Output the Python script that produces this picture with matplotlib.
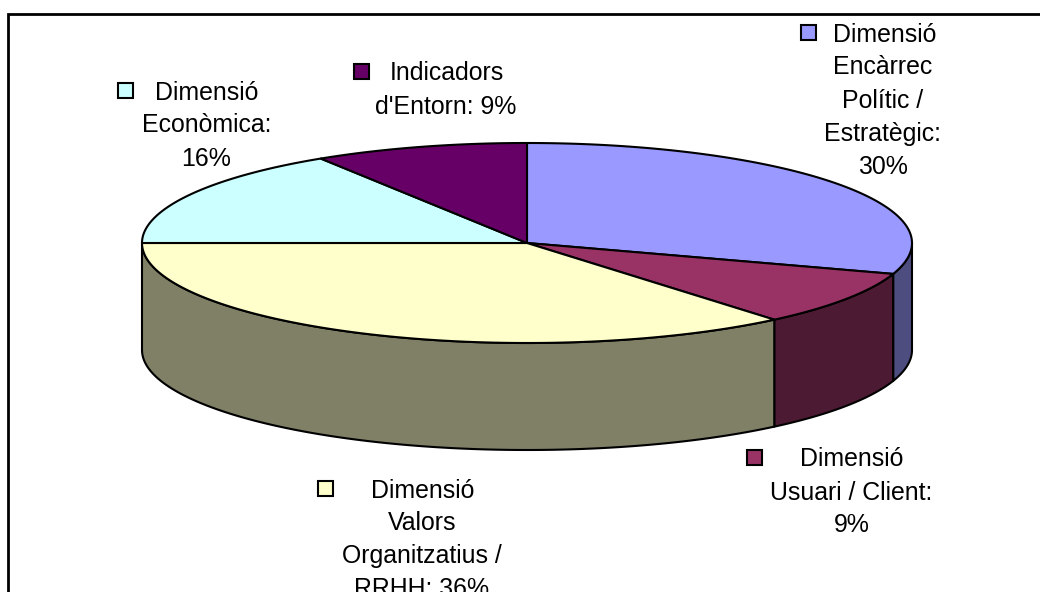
import numpy as np
import matplotlib
matplotlib.use("Agg")
import matplotlib.pyplot as plt
from matplotlib.patches import Polygon, Rectangle

plt.rcParams['font.family'] = ['Liberation Sans', 'DejaVu Sans']

# slices, clockwise from 12 o'clock
names = ["Encarrec", "Usuari", "Valors", "Economica", "Entorn"]
values = [30, 8.9, 36.1, 16, 9]
top_colors = ["#9999FF", "#993366", "#FFFFCC", "#CCFFFF", "#660066"]
side_colors = ["#4D4D80", "#4D1A33", "#808066", "#668080", "#330033"]

labels = [
    ["Dimensió", "Encàrrec", "Polític /", "Estratègic:", "30%"],
    ["Dimensió", "Usuari / Client:", "9%"],
    ["Dimensió", "Valors", "Organitzatius /", "RRHH: 36%"],
    ["Dimensió", "Econòmica:", "16%"],
    ["Indicadors", "d'Entorn: 9%"],
]
first_line_x = [884.5, 852, 423, 207, 446.5]
other_lines_x = [883, 851.5, 422, 206.5, 446]
first_line_y = [32, 457, 488, 90, 71]
key_x = [808.5, 754.5, 325.5, 125.5, 361]

cx, cy = 527, 243
rx, ry = 385, 100
depth = 107
line_step = 33
key_size = 15
edge = "black"


def rim(a0, a1, n=120):
    t = np.radians(np.linspace(a0, a1, n))
    return np.column_stack([cx + rx * np.sin(t), cy - ry * np.cos(t)])


fig = plt.figure(figsize=(10.4, 5.92), dpi=100)
ax = fig.add_axes([0, 0, 1, 1])
ax.set_xlim(0, 1040)
ax.set_ylim(592, 0)
ax.axis("off")

# chart area frame, cut by the image on the right and bottom
ax.plot([8, 8, 1040], [592, 14, 14], color="black", lw=2.0, solid_joinstyle="miter", clip_on=True)

angles = np.concatenate([[0], np.cumsum(values)]) * 360.0 / sum(values)

# front wall of the pie, only the part between 90 and 270 degrees shows
for i in range(len(values)):
    a0 = max(angles[i], 90)
    a1 = min(angles[i + 1], 270)
    if a1 <= a0:
        continue
    upper = rim(a0, a1)
    lower = upper[::-1] + [0, depth]
    ax.add_patch(Polygon(np.vstack([upper, lower]), closed=True, facecolor=side_colors[i],
                         edgecolor=edge, lw=1.5, joinstyle="round"))

# top face
for i in range(len(values)):
    pts = np.vstack([[cx, cy], rim(angles[i], angles[i + 1])])
    ax.add_patch(Polygon(pts, closed=True, facecolor=top_colors[i], edgecolor=edge,
                         lw=1.5, joinstyle="round"))

# labels with their legend keys
for i in range(len(labels)):
    for j, line in enumerate(labels[i]):
        x = first_line_x[i] if j == 0 else other_lines_x[i]
        ax.text(x, first_line_y[i] + j * line_step, line, fontsize=17.9, color="black",
                ha="center", va="center_baseline")
    ax.add_patch(Rectangle((key_x[i] - key_size / 2, first_line_y[i] - key_size / 2),
                           key_size, key_size, facecolor=top_colors[i], edgecolor=edge, lw=1.5))

fig.savefig("out.png", dpi=100, facecolor="white")
